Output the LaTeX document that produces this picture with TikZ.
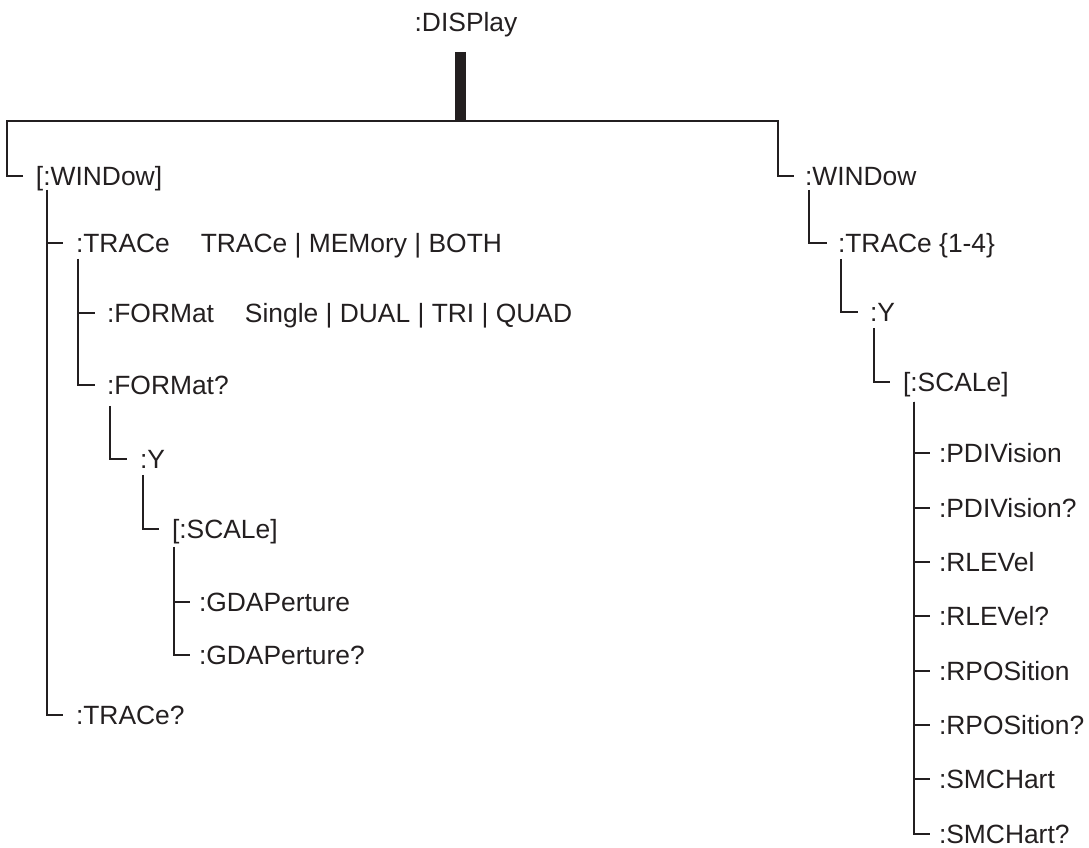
\documentclass[tikz,border=0pt]{standalone}
\usepackage{fontspec}
\setmainfont{Liberation Sans}
\usetikzlibrary{calc}
\definecolor{ink}{HTML}{231F20}
\begin{document}
\begin{tikzpicture}[x=0.75pt,y=-0.75pt,
  lbl/.style={anchor=west, inner sep=0pt, outer sep=0pt, text height=14.2pt, text depth=0pt,
              font=\fontsize{19.8}{24}\selectfont, text=ink},
  conn/.style={draw=ink, line width=1.5pt},
  bar/.style={draw=ink, line width=8.25pt}]
\useasboundingbox (0,0) rectangle (1089,848);

% root
\node[lbl, anchor=center] (disp) at (466,22) {:DISPlay};
\coordinate (hub) at (460,121);
\coordinate (hl) at (7,121);
\coordinate (hr) at (778,121);

% left branch
\node[lbl] (w1) at (36,176) {[:WINDow]};
\node[lbl] (t1) at (76,243) {:TRACe\hspace{1.17em}TRACe | MEMory | BOTH};
\node[lbl] (f1) at (107,313) {:FORMat\hspace{1.17em}Single | DUAL | TRI | QUAD};
\node[lbl] (f2) at (107,385) {:FORMat?};
\node[lbl] (y1) at (140,459) {:Y};
\node[lbl] (s1) at (172,529) {[:SCALe]};
\node[lbl] (g1) at (199,602) {:GDAPerture};
\node[lbl] (g2) at (199,655) {:GDAPerture?};
\node[lbl] (t2) at (76,715) {:TRACe?};

% right branch
\node[lbl] (w2) at (805,176) {:WINDow};
\node[lbl] (t3) at (838,243) {:TRACe \{1-4\}};
\node[lbl] (y2) at (870,312) {:Y};
\node[lbl] (s2) at (903,382) {[:SCALe]};
\node[lbl] (p1) at (939,453) {:PDIVision};
\node[lbl] (p2) at (939,508) {:PDIVision?};
\node[lbl] (p3) at (939,562) {:RLEVel};
\node[lbl] (p4) at (939,616) {:RLEVel?};
\node[lbl] (p5) at (939,671) {:RPOSition};
\node[lbl] (p6) at (939,725) {:RPOSition?};
\node[lbl] (p7) at (939,779) {:SMCHart};
\node[lbl] (p8) at (939,834) {:SMCHart?};

% thick stem
\draw[bar] ($(disp.south)+(-6,20.5)$) -- (hub);

% main bar and the two top branches
\draw[conn] ($(w1.west)+(-13,0)$) -| (hl) -- (hr) |- ($(w2.west)+(-11,0)$);

% left tree
\coordinate (v1) at ($(w1.south west)+(11,4.5)$);
\draw[conn] (v1) |- ($(t1.west)+(-13,0)$);
\draw[conn] (v1) |- ($(t2.west)+(-13,0)$);
\coordinate (v2) at ($(t1.south west)+(2,6.5)$);
\draw[conn] (v2) |- ($(f1.west)+(-12,0)$);
\draw[conn] (v2) |- ($(f2.west)+(-12,0)$);
\draw[conn] ($(f2.south west)+(3,11.5)$) |- ($(y1.west)+(-13,0)$);
\draw[conn] ($(y1.south west)+(3,6.5)$) |- ($(s1.west)+(-13,0)$);
\coordinate (v3) at ($(s1.south west)+(2,8.5)$);
\draw[conn] (v3) |- ($(g1.west)+(-9,0)$);
\draw[conn] (v3) |- ($(g2.west)+(-9,0)$);

% right tree
\draw[conn] ($(w2.south west)+(4,4.5)$) |- ($(t3.west)+(-11,0)$);
\draw[conn] ($(t3.south west)+(3,6.5)$) |- ($(y2.west)+(-12,0)$);
\draw[conn] ($(y2.south west)+(3.5,6.5)$) |- ($(s2.west)+(-13,0)$);
\coordinate (v4) at ($(s2.south west)+(11,10.5)$);
\foreach \n in {p1,p2,p3,p4,p5,p6,p7,p8}
  \draw[conn] (v4) |- ($(\n.west)+(-9,0)$);
\end{tikzpicture}
\end{document}
